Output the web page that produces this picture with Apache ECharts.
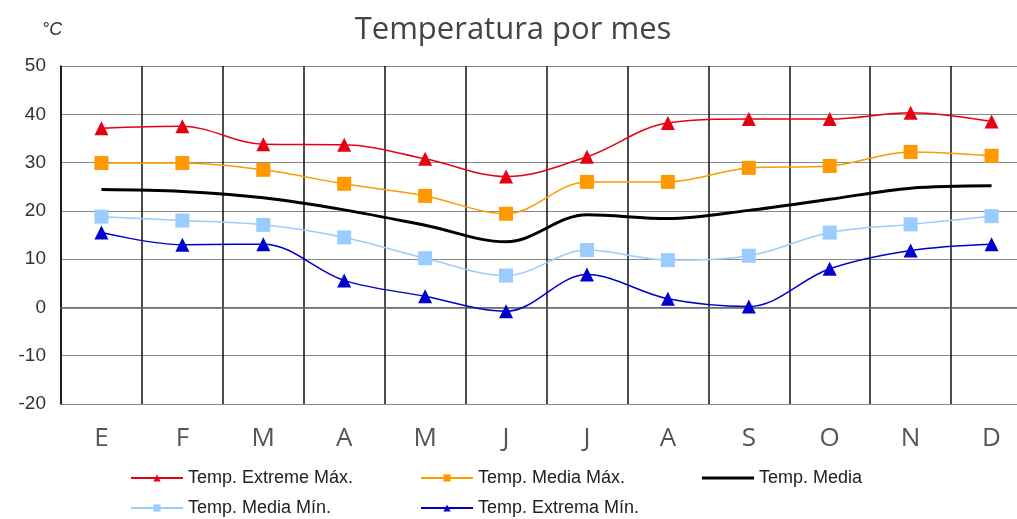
<!DOCTYPE html>
<html>
<head>
<meta charset="utf-8">
<script src="https://cdn.jsdelivr.net/npm/echarts@6/dist/echarts.min.js"></script>
<style>
  html, body { margin: 0; padding: 0; background: #fff; overflow: hidden; }
  /* the plot runs a little past the right edge of the window */
  #chart { width: 1032px; height: 519px; }
</style>
</head>
<body>
<div id="chart"></div>
<script>
// Month initials (Spanish)
const months = ['E', 'F', 'M', 'A', 'M', 'J', 'J', 'A', 'S', 'O', 'N', 'D'];

// Monthly temperatures, °C
const extremeMax = [37.1, 37.5, 33.8, 33.7, 30.8, 27.1, 31.2, 38.2, 39.0, 39.0, 40.3, 38.5];
const mediaMax   = [29.9, 29.9, 28.5, 25.6, 23.1, 19.4, 26.0, 26.0, 28.9, 29.3, 32.2, 31.4];
const media      = [24.4, 24.0, 22.7, 20.2, 17.0, 13.6, 19.2, 18.4, 20.1, 22.4, 24.7, 25.2];
const mediaMin   = [18.8, 18.0, 17.1, 14.5, 10.2, 6.6, 11.9, 9.8, 10.7, 15.5, 17.2, 18.9];
const extremaMin = [15.5, 13.0, 13.1, 5.6, 2.3, -0.8, 6.8, 1.8, 0.2, 8.0, 11.8, 13.1];

const names = ['Temp. Extreme Máx.', 'Temp. Media Máx.', 'Temp. Media', 'Temp. Media Mín.', 'Temp. Extrema Mín.'];

const chart = echarts.init(document.getElementById('chart'), null, { renderer: 'canvas' });

function lineSeries(name, data, color, symbol, size, width) {
  return {
    name: name,
    type: 'line',
    data: data,
    smooth: 0.35,
    symbol: symbol,
    symbolSize: size,
    showSymbol: symbol !== 'none',
    lineStyle: { color: color, width: width },
    itemStyle: { color: color },
    emphasis: { disabled: true },
    z: 3
  };
}

const legendFont = { fontFamily: 'Liberation Sans, Arial, sans-serif', fontSize: 18, color: '#222' };
function legendAt(name, left, top, icon, h) {
  const item = icon ? { name: name, icon: icon } : name;
  return {
    data: [item],
    left: left,
    top: top,
    padding: 0,
    itemWidth: 52,
    itemHeight: h || 9,
    textStyle: legendFont,
    selectedMode: false
  };
}

chart.setOption({
  animation: false,
  backgroundColor: '#fff',
  title: [
    {
      text: 'Temperatura por mes',
      left: 508,
      top: 10,
      textAlign: 'center',
      textStyle: { fontFamily: 'Open Sans, sans-serif', fontSize: 31, fontWeight: 'normal', color: '#444' }
    },
    {
      text: '°C',
      left: 37,
      top: 16,
      textStyle: { fontFamily: 'Liberation Sans, Arial, sans-serif', fontSize: 18, fontWeight: 'normal', fontStyle: 'italic', color: '#333' }
    }
  ],
  legend: [
    legendAt(names[0], 130, 469),
    legendAt(names[1], 420, 469),
    legendAt(names[2], 702, 469, 'rect', 3),
    legendAt(names[3], 130, 499),
    legendAt(names[4], 420, 499)
  ],
  grid: { left: 61, right: 0, top: 66, bottom: 115, containLabel: false },
  xAxis: {
    type: 'category',
    data: months,
    boundaryGap: true,
    axisLine: { show: true, lineStyle: { color: '#666', width: 1.5 } },
    axisTick: { show: false },
    splitLine: { show: true, lineStyle: { color: '#111', width: 1.5 } },
    axisLabel: { margin: 22, fontFamily: 'Open Sans, sans-serif', fontSize: 26, color: '#555' }
  },
  yAxis: {
    type: 'value',
    min: -20,
    max: 50,
    interval: 10,
    axisLine: { show: true, lineStyle: { color: '#111', width: 1.5 } },
    axisTick: { show: false },
    splitLine: { show: true, lineStyle: { color: '#888', width: 1 } },
    axisLabel: { margin: 15, fontFamily: 'Liberation Sans, Arial, sans-serif', fontSize: 19, color: '#333' }
  },
  series: [
    lineSeries(names[0], extremeMax, '#E60012', 'triangle', 14, 1.5),
    lineSeries(names[1], mediaMax, '#FF9900', 'rect', 14, 1.5),
    lineSeries(names[2], media, '#000000', 'none', 0, 3),
    lineSeries(names[3], mediaMin, '#99CCFF', 'rect', 14, 1.5),
    lineSeries(names[4], extremaMin, '#0000CC', 'triangle', 14, 1.5)
  ]
});
</script>
</body>
</html>
